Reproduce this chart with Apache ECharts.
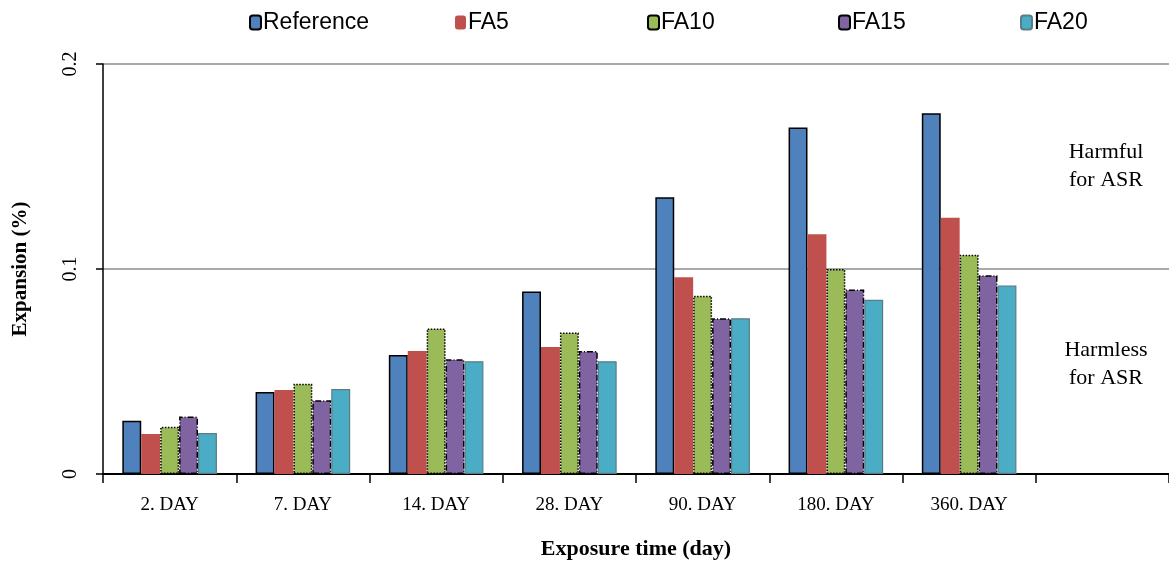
<!DOCTYPE html>
<html>
<head>
<meta charset="utf-8">
<script src="https://cdn.jsdelivr.net/npm/echarts@6/dist/echarts.min.js"></script>
<style>
  html, body { margin: 0; padding: 0; background: #fff; }
  #chart { width: 1169px; height: 565px; }
</style>
</head>
<body>
<div id="chart"></div>
<script>
// categories (last one is empty, like the original)
const days = ['2. DAY', '7. DAY', '14. DAY', '28. DAY', '90. DAY', '180. DAY', '360. DAY', '']
const seriesNames = ['Reference', 'FA5', 'FA10', 'FA15', 'FA20']

const reference = [0.026, 0.040, 0.058, 0.089, 0.135, 0.169, 0.176]
const fa5 = [0.0195, 0.041, 0.060, 0.062, 0.096, 0.117, 0.125]
const fa10 = [0.023, 0.044, 0.071, 0.069, 0.087, 0.100, 0.107]
const fa15 = [0.028, 0.036, 0.056, 0.060, 0.076, 0.090, 0.097]
const fa20 = [0.020, 0.0415, 0.055, 0.055, 0.076, 0.085, 0.092]

const yTicks = [0, 0.1, 0.2]

const colors = ['#4F81BD', '#C0504D', '#9BBB59', '#8064A2', '#4BACC6']
const serif = '"Liberation Serif", "DejaVu Serif", serif'
const sans = '"Liberation Sans", "DejaVu Sans", sans-serif'

const chart = echarts.init(document.getElementById('chart'))

const borders = [
  { borderColor: '#000', borderWidth: 1.5, borderType: 'solid' },
  { borderWidth: 0 },
  { borderColor: '#000', borderWidth: 1.5, borderType: 'dotted' },
  { borderColor: '#000', borderWidth: 1.5, borderType: [6, 2, 1, 2] },
  { borderColor: '#5a7d85', borderWidth: 1.2, borderType: 'solid' }
]
const allData = [reference, fa5, fa10, fa15, fa20]

// separate legends so the uneven spacing of the original can be kept
const legendLeft = [244, 450, 642, 833, 1015]
const legends = seriesNames.map((n, i) => ({
  data: [n],
  left: legendLeft[i],
  top: 6,
  itemWidth: 11,
  itemHeight: 14,
  itemGap: 2,
  textStyle: { fontFamily: sans, fontSize: 23, color: '#000', padding: [0, 0, 0, -3] }
}))

const option = {
  animation: false,
  color: colors,
  legend: legends,
  grid: { left: 103, right: 0, top: 64, bottom: 91, outerBoundsMode: 'none', containLabel: false },
  xAxis: {
    type: 'category',
    data: days,
    axisLine: { lineStyle: { color: '#000', width: 2 } },
    axisTick: { show: true, length: 9, lineStyle: { color: '#000', width: 1.5 } },
    axisLabel: { fontFamily: serif, fontSize: 19, color: '#000', margin: 22 },
    name: 'Exposure time (day)',
    nameLocation: 'middle',
    nameGap: 64,
    nameTextStyle: { fontFamily: serif, fontSize: 22, fontWeight: 'bold', color: '#000' }
  },
  yAxis: {
    type: 'value',
    min: yTicks[0],
    max: yTicks[yTicks.length - 1],
    interval: 0.1,
    axisLine: { show: true, lineStyle: { color: '#000', width: 1.5 } },
    axisTick: { show: true, length: 7, lineStyle: { color: '#000', width: 1.5 } },
    axisLabel: { fontFamily: serif, fontSize: 20, color: '#000', rotate: 90, margin: 22 },
    splitLine: { show: true, lineStyle: { color: '#8c8c8c', width: 1.5 } },
    name: 'Expansion (%)',
    nameLocation: 'middle',
    nameGap: 72,
    nameTextStyle: { fontFamily: serif, fontSize: 21, fontWeight: 'bold', color: '#000' }
  },
  graphic: [
    {
      type: 'text', x: 1106, y: 138,
      style: { text: 'Harmful\nfor ASR', font: '22px ' + serif, fill: '#000', align: 'center', lineHeight: 28 }
    },
    {
      type: 'text', x: 1106, y: 336,
      style: { text: 'Harmless\nfor ASR', font: '22px ' + serif, fill: '#000', align: 'center', lineHeight: 28 }
    }
  ],
  series: seriesNames.map((n, i) => ({
    name: n,
    type: 'bar',
    data: allData[i],
    barGap: '0%',
    barCategoryGap: '29%',
    itemStyle: Object.assign({ color: colors[i] }, borders[i])
  }))
}

chart.setOption(option)
</script>
</body>
</html>
